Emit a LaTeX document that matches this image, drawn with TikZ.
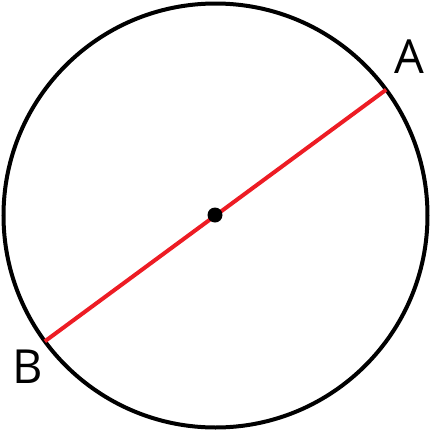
\documentclass[tikz,border=0pt]{standalone}
\usepackage{fontspec}
\setmainfont{Open Sans}
\usetikzlibrary{positioning,calc}
\definecolor{chordred}{RGB}{237,28,36}

\begin{document}
\begin{tikzpicture}[
    x=1pt, y=-1pt,
    rim/.style={draw=black, line width=4pt},
    diam/.style={draw=chordred, line width=4pt},
    dot/.style={circle, fill=black, inner sep=0pt, minimum size=15pt},
    lbl/.style={font=\fontsize{47}{51}\selectfont, inner sep=0pt}
]
\useasboundingbox (0,0) rectangle (432,432);

% circle and centre
\coordinate (o) at (215.5,215.5);
\draw[rim] (o) circle[radius=212pt];

% end points of the diameter
\coordinate (a) at ($(o)+(36.4:212pt)$);
\coordinate (b) at ($(o)+(216.4:212pt)$);
\draw[diam] (b) -- (a);
\node[dot] (ctr) at (215,215) {};

% labels
\node[lbl] (la) at (409,57) {A};
\node[lbl] (lb) at (28,367) {B};

\end{tikzpicture}
\end{document}
